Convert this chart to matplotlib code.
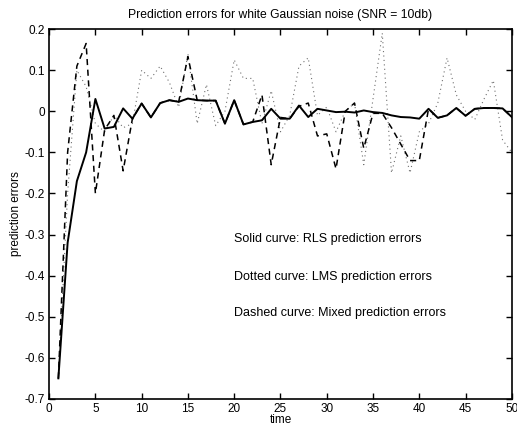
import numpy as np
import matplotlib
matplotlib.use("Agg")
import matplotlib.pyplot as plt

plt.rcParams["font.family"] = ["Liberation Sans", "DejaVu Sans"]

time = np.arange(1, 51)

# RLS prediction errors (solid)
rls = [-0.65, -0.32, -0.17, -0.10, 0.03, -0.042, -0.038, 0.007, -0.018, 0.019,
       -0.015, 0.020, 0.027, 0.023, 0.031, 0.027, 0.026, 0.026, -0.030, 0.027,
       -0.032, -0.026, -0.022, 0.006, -0.018, -0.018, 0.014, -0.014, 0.006, 0.002,
       -0.002, -0.001, -0.003, 0.002, -0.002, -0.004, -0.010, -0.014, -0.015, -0.018,
       0.006, -0.016, -0.010, 0.008, -0.011, 0.006, 0.008, 0.008, 0.007, -0.014]

# LMS prediction errors (dotted)
lms = [-0.65, -0.20, 0.10, 0.06, -0.03, -0.05, -0.01, -0.04, -0.03, 0.10,
       0.08, 0.11, 0.07, 0.01, 0.14, -0.03, 0.065, -0.035, 0.00, 0.125,
       0.08, 0.08, -0.03, 0.05, -0.05, -0.01, 0.11, 0.13, -0.01, 0.01,
       -0.05, 0.00, 0.02, -0.13, 0.03, 0.19, -0.15, -0.06, -0.15, -0.05,
       -0.03, 0.02, 0.13, 0.04, 0.00, -0.02, 0.03, 0.075, -0.07, -0.10]

# Mixed prediction errors (dashed)
mixed = [-0.65, -0.10, 0.11, 0.165, -0.20, -0.045, -0.01, -0.145, -0.018, 0.019,
         -0.015, 0.020, 0.027, 0.023, 0.133, 0.027, 0.026, 0.026, -0.030, 0.027,
         -0.032, -0.026, 0.040, -0.130, -0.015, -0.018, 0.012, 0.020, -0.060, -0.055,
         -0.140, 0.000, 0.020, -0.090, -0.005, -0.005, -0.040, -0.080, -0.120, -0.120,
         0.006, -0.016, -0.010, 0.008, -0.011, 0.006, 0.008, 0.008, 0.007, -0.014]

labels = ["Solid curve: RLS prediction errors",
          "Dotted curve: LMS prediction errors",
          "Dashed curve: Mixed prediction errors"]
label_y = [-0.31, -0.403, -0.492]

fig = plt.figure(figsize=(5.17, 4.28), dpi=100)
ax = fig.add_axes([0.095, 0.068, 0.895, 0.864])

ax.plot(time, lms, color="#707070", linestyle=(0, (1, 3)), linewidth=0.8)
ax.plot(time, mixed, color="black", linestyle=(0, (4, 3)), linewidth=1.1)
ax.plot(time, rls, color="black", linestyle="-", linewidth=1.4)

for txt, yy in zip(labels, label_y):
    ax.text(20, yy, txt, fontsize=9, va="center", ha="left")

ax.set_xlim(0, 50)
ax.set_ylim(-0.7, 0.2)
ax.set_xticks(np.arange(0, 51, 5))
ax.set_yticks(np.round(np.arange(-0.7, 0.21, 0.1), 1))
ax.set_yticklabels(["-0.7", "-0.6", "-0.5", "-0.4", "-0.3", "-0.2", "-0.1", "0", "0.1", "0.2"])
ax.tick_params(direction="in", top=True, right=True, labelsize=8.5, length=4, width=1, pad=3)
for s in ax.spines.values():
    s.set_linewidth(1.2)

ax.set_title("Prediction errors for white Gaussian noise (SNR = 10db)", fontsize=8.7, pad=8)
ax.set_xlabel("time", fontsize=8.5, labelpad=-1)
ax.set_ylabel("prediction errors", fontsize=8.5, labelpad=2)

fig.savefig("out.png", dpi=100)
